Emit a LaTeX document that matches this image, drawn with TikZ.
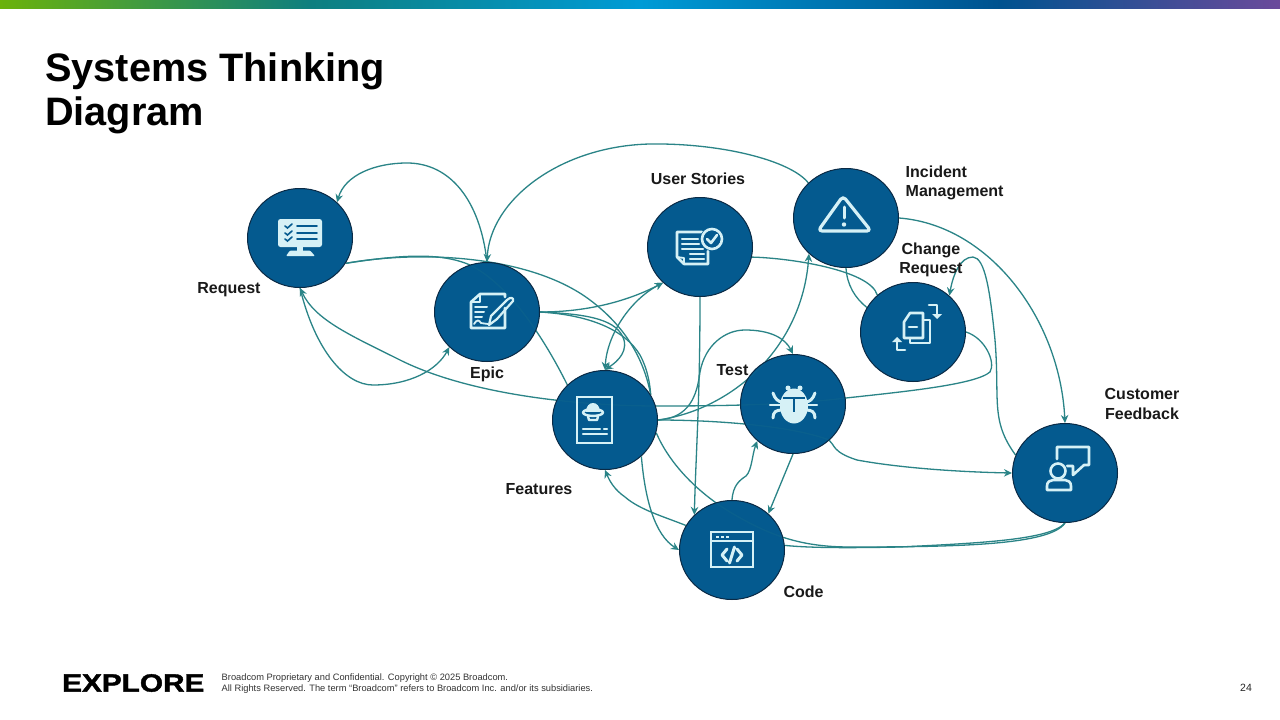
\documentclass[tikz,border=0pt]{standalone}
\usepackage{fontspec}
\setmainfont{Liberation Sans}
\newfontfamily\logofont[FakeBold=1.5]{Liberation Sans Bold}
\usetikzlibrary{arrows.meta,shapes.geometric,backgrounds}
\definecolor{hub}{HTML}{045A8F}
\definecolor{rim}{HTML}{0B2A45}
\definecolor{link}{HTML}{2A8487}
\definecolor{ink}{HTML}{D6F1F6}
\definecolor{inkdark}{HTML}{045A8F}
\definecolor{barA}{HTML}{6BB20B}
\definecolor{barB}{HTML}{0E7F7F}
\definecolor{barC}{HTML}{009BD6}
\definecolor{barD}{HTML}{00528F}
\definecolor{barE}{HTML}{6B4A9B}
\tikzset{
  hubnode/.style={ellipse,minimum width=105pt,minimum height=99pt,inner sep=0pt,draw=rim,line width=1pt,fill=hub,fill opacity=.86},
  hubbase/.style={fill=hub},
  lbl/.style={font=\fontsize{16}{19.2}\selectfont\bfseries,text=black!90,align=center,inner sep=0pt},
  lk/.style={draw=link,line width=1.3pt},
  ar/.style={lk,-{Stealth[length=8pt,width=7.5pt]}},
  both/.style={lk,{Stealth[length=8pt,width=7.5pt]}-{Stealth[length=8pt,width=7.5pt]}},
  ic/.style={draw=ink,line width=2.6pt,line cap=round,line join=round},
  icf/.style={fill=ink,draw=none},
  icd/.style={draw=inkdark,line width=2pt,line cap=round},
}
\begin{document}
\begin{tikzpicture}[x=1pt,y=-1pt]
\useasboundingbox (0,0) rectangle (1280,720);
% nodes
\node[hubnode] (req) at (300,238) {};
\node[hubnode] (epic) at (487,312) {};
\node[hubnode] (story) at (700,247) {};
\node[hubnode] (inc) at (846,218) {};
\node[hubnode] (chg) at (913,332) {};
\node[hubnode] (test) at (793,404) {};
\node[hubnode] (feat) at (605,420) {};
\node[hubnode] (code) at (732,550) {};
\node[hubnode] (cust) at (1065,473) {};
\begin{scope}[on background layer]
\fill[white] (0,0) rectangle (1280,720);
\foreach \nn in {req,epic,story,inc,chg,test,feat,code,cust}
  \fill[hubbase] (\nn) ellipse[x radius=52.5pt,y radius=49.5pt];
% top bar
\shade[left color=barA,right color=barB] (0,0) rectangle (310,8.5);
\shade[left color=barB,right color=barC] (310,0) rectangle (640,8.5);
\shade[left color=barC,right color=barD] (640,0) rectangle (1000,8.5);
\shade[left color=barD,right color=barE] (1000,0) rectangle (1280,8.5);
% connectors
\draw[ar] (epic.90) .. controls (480,200) and (450,163) .. (407,163) .. controls (375,163) and (345,175) .. (req.44);
\draw[ar] (inc.137) .. controls (790,160) and (720,143) .. (650,144) .. controls (560,146) and (490,200) .. (epic.90);
\draw[lk] (req.-29) .. controls (420,250) and (530,255) .. (590,300) .. controls (630,330) and (645,365) .. (feat.29);
\draw[lk] (req.-29) .. controls (400,255) and (440,252) .. (470,265) .. controls (510,285) and (545,340) .. (feat.137);
\draw[ar] (chg.0) .. controls (985,338) and (996,362) .. (990,372) .. controls (975,385) and (900,392) .. (846,398) .. controls (790,405) and (720,406) .. (658,406) .. controls (580,406) and (470,395) .. (400,360) .. controls (350,335) and (315,320) .. (req.-90);
\draw[ar] (req.-90) .. controls (315,350) and (345,385) .. (373,385) .. controls (410,385) and (437,370) .. (epic.-137);
\draw[ar] (epic.0) .. controls (590,312) and (630,300) .. (story.-136);
\draw[lk] (epic.0) .. controls (590,315) and (625,330) .. (640,355) .. controls (648,370) and (650,385) .. (feat.29);
\draw[both] (story.-136) .. controls (630,300) and (607,335) .. (feat.90);
\draw[ar] (epic.0) .. controls (590,314) and (618,320) .. (624,340) .. controls (628,355) and (612,365) .. (feat.90);
\draw[ar] (story.-90) .. controls (700,400) and (696,450) .. (code.137);
\draw[ar] (feat.0) .. controls (730,410) and (802,350) .. (inc.-136);
\draw[ar] (feat.0) .. controls (690,418) and (697,395) .. (700,372) .. controls (705,345) and (725,330) .. (745,330) .. controls (770,330) and (785,338) .. (test.90);
\draw[ar] (feat.0) .. controls (710,420) and (790,425) .. (829,440) .. controls (835,445) and (832,452) .. (857,460) .. controls (900,468) and (960,472) .. (cust.180);
\draw[ar] (test.-90) -- (code.45);
\draw[ar] (code.90) .. controls (733,485) and (740,480) .. (746,476) .. controls (752,470) and (752,455) .. (test.-134);
\draw[ar] (feat.-45) .. controls (645,500) and (655,535) .. (code.180);
\draw[ar] (code.152) .. controls (665,517) and (640,510) .. (625,497) .. controls (615,490) and (610,482) .. (feat.-90);
\draw[lk] (feat.-14) .. controls (670,465) and (700,495) .. (735,515) .. controls (770,535) and (800,547) .. (850,547) .. controls (960,547) and (1050,545) .. (cust.-90);
\draw[lk] (code.5) .. controls (810,548) and (850,548) .. (900,547) .. controls (980,543) and (1050,540) .. (cust.-90);
\draw[lk] (story.-11) .. controls (790,258) and (870,270) .. (chg.134);
\draw[lk] (inc.-90) .. controls (847,285) and (855,298) .. (chg.152);
\draw[ar] (inc.0) .. controls (990,225) and (1060,320) .. (cust.90);
\draw[ar] (cust.160) .. controls (990,420) and (1000,400) .. (995,340) .. controls (990,290) and (985,258) .. (973,257) .. controls (960,257) and (953,275) .. (chg.45);
\end{scope}
% icons: Request
\fill[icf,rounded corners=2.5pt] (278,219) rectangle (322,247);
\fill[icf] (297,246) rectangle (303,252);
\fill[icf,rounded corners=1pt] (290,250.5) -- (310,250.5) -- (315,256) -- (286,256) -- cycle;
\foreach \yy in {226,233,239}{
  \draw[icd,line width=1.9pt] (297,\yy) -- (317,\yy);
  \draw[icd,line width=1.6pt] (285,\yy) -- (287.5,\yy+2) -- (292,\yy-2);
}
% Epic
\draw[ic] (505,308) -- (505,328) -- (471,328) -- (471,302) -- (480,294) -- (505,294) -- (505,297);
\draw[ic,line width=1.8pt] (471,302) -- (480,302) -- (480,294);
\draw[ic,line width=2pt] (475,307) -- (487,307) (475,312) -- (484,312) (475,317) -- (482,317);
\draw[ic,line width=1.8pt] (474,324) .. controls (477,319) and (479,320) .. (481,323) .. controls (483,325) and (485,322) .. (488,324);
\draw[ic,line width=2.2pt] (489,325) -- (491,316) -- (507,300) .. controls (510,297) and (514,297) .. (513,301) -- (497,319) -- cycle;
% User Stories
\draw[ic] (702,232) -- (677,232) -- (677,257) -- (684,264) -- (708,264) -- (708,251);
\draw[ic,line width=1.8pt] (677,257) -- (684,258) -- (684,264);
\draw[ic,line width=2.1pt] (682,239) -- (698,239) (682,244) -- (699,244) (682,249) -- (703,249) (690,254) -- (704,254) (690,259) -- (704,259);
\fill[inkdark] (712,239) circle[radius=12pt];
\draw[ic] (712,239) circle[radius=10pt];
\draw[ic] (707,239) -- (711,243) -- (717,235);
% Incident
\draw[ic,line width=3.2pt,rounded corners=4pt] (843,196) -- (871,231) -- (818,231) -- cycle;
\draw[ic,line width=3pt] (844,207) -- (844,218);
\fill[icf] (844,224.5) circle[radius=2.2pt];
% Change
\draw[ic] (904,322) -- (904,338) -- (923,338) -- (923,313) -- (910,313) -- cycle;
\draw[ic] (923,320) -- (930,320) -- (930,343) -- (910,343) -- (910,338);
\draw[ic] (909,327) -- (917,327);
\draw[ic] (929,305) -- (937,305) -- (937,314);
\fill[icf] (932,314) -- (942,314) -- (937,319) -- cycle;
\draw[ic] (905,350) -- (897,350) -- (897,342);
\fill[icf] (892,342) -- (902,342) -- (897,337) -- cycle;
% Test
\fill[icf] (794,406) ellipse[x radius=14pt,y radius=17.5pt];
\fill[icf] (788,388) circle[radius=2.5pt] (800,388) circle[radius=2.5pt];
\draw[ic,line width=2.4pt] (770,405) -- (817,405);
\draw[ic,line width=3pt] (773,393) .. controls (775,399) and (778,402) .. (783,402) (815,393) .. controls (813,399) and (810,402) .. (805,402);
\draw[ic,line width=3pt] (773,418) .. controls (773,412) and (776,410) .. (782,410) (815,418) .. controls (815,412) and (812,410) .. (806,410);
\draw[icd,line cap=butt] (783,398) -- (805,398) (794,398) -- (794,412);
% Features
\draw[ic,line join=miter] (577,397) rectangle (612,443);
\fill[icf] (586,412) .. controls (586,400) and (600,400) .. (600,412) -- cycle;
\draw[ic,line width=2.4pt] (593,412.5) ellipse[x radius=10pt,y radius=3.4pt];
\draw[ic,line width=2.4pt] (588,416.5) -- (589,420) -- (597,420) -- (598,416.5);
\draw[ic,line width=2.2pt] (583,429) -- (600,429) (604,429) -- (607,429) (583,434) -- (607,434);
% Code
\draw[ic,line join=miter] (711,532) rectangle (753,567);
\draw[ic,line width=2pt] (711,541) -- (753,541);
\draw[draw=ink,dash pattern=on 3pt off 2pt,line width=2.4pt] (716,537) -- (729,537);
\draw[ic,line width=3pt] (727,549) -- (722,555) -- (727,561) (737,549) -- (742,555) -- (737,561) (734.5,547) -- (729.5,563);
% Customer
\draw[ic] (1057,459) -- (1057,447) -- (1089,447) -- (1089,465) -- (1084,465) -- (1073,475) -- (1073,466) -- (1067,466);
\fill[inkdark] (1058,471) circle[radius=9.5pt];
\draw[ic] (1058,471) circle[radius=7.5pt];
\draw[ic] (1047,490) -- (1047,486) .. controls (1047,482) and (1050,480) .. (1053,480) -- (1065,480) .. controls (1068,480) and (1071,482) .. (1071,486) -- (1071,490) -- cycle;
% labels
\node[lbl] (lreq) at (229,290) {Request};
\node[lbl] (lepic) at (487,374) {Epic};
\node[lbl] (lstory) at (698,179) {User Stories};
\node[lbl,align=left,anchor=west] (linc) at (905.5,182.5) {Incident\\Management};
\node[lbl] (lchg) at (931,260) {Change\\Request};
\node[lbl] (ltest) at (732.5,370) {Test};
\node[lbl] (lfeat) at (539,489) {Features};
\node[lbl] (lcode) at (803.5,592) {Code};
\node[lbl] (lcust) at (1142,404) {Customer\\Feedback};
% title and footer
\node[anchor=north west,inner sep=0pt,align=left,font=\fontsize{39.7}{44}\selectfont\bfseries,text=black] (title) at (45,53) {Systems Thinking\\Diagram};
\node[anchor=west,inner sep=0pt,font=\fontsize{25}{25}\selectfont\logofont,text=black] (logo) at (62,683) {\scalebox{1.19}[1]{EXPLORE}};
\node[anchor=north west,inner sep=0pt,align=left,font=\fontsize{9.3}{11}\selectfont,text=black!80] (legal) at (221.5,673.5) {Broadcom Proprietary and Confidential. Copyright © 2025 Broadcom.\\All Rights Reserved. The term “Broadcom” refers to Broadcom Inc. and/or its subsidiaries.};
\node[inner sep=0pt,font=\fontsize{10.5}{12}\selectfont,text=black!85] (page) at (1246,688) {24};
\end{tikzpicture}
\end{document}
